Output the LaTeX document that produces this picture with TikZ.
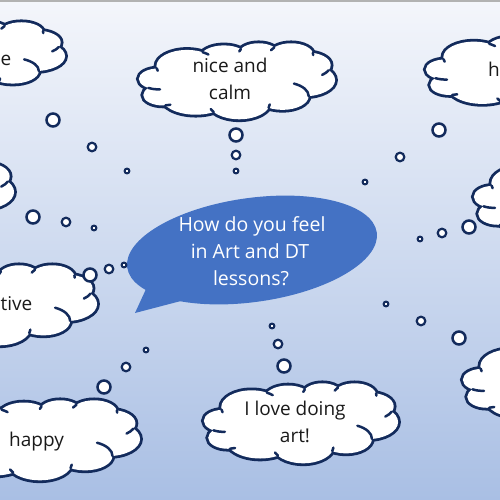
\documentclass[tikz,border=0pt]{standalone}
\usepackage{fontspec}
\setmainfont{Open Sans}
\definecolor{navy}{HTML}{132B5C}
\definecolor{bubble}{HTML}{4472C4}
\definecolor{bgtop}{HTML}{F4F6FB}
\definecolor{bgmid}{HTML}{CAD7EE}
\definecolor{bgbot}{HTML}{A9BFE4}
\definecolor{txt}{HTML}{1A1A1A}
\newcommand{\cloudbumps}{0.2452/0.3040/0.1563/0.2127, 0.4332/0.1994/0.1234/0.1682, 0.6102/0.1409/0.1010/0.1376, 0.7763/0.1562/0.1124/0.1527, 0.8545/0.2916/0.1234/0.1684, 0.8436/0.4879/0.1568/0.2134, 0.7319/0.6978/0.1339/0.1821, 0.5114/0.7904/0.1563/0.2133, 0.2894/0.6998/0.1787/0.2440, 0.1226/0.6851/0.1009/0.1370, 0.0997/0.4728/0.1006/0.1376}
\newcommand{\cloudcreases}{0.0997/0.4728/0.1006/0.1376/85.5/120.4, 0.1226/0.6851/0.1009/0.1370/68.2/83.3, 0.5114/0.7904/0.1563/0.2133/146.2/158.5, 0.5114/0.7904/0.1563/0.2133/4.7/16.8, 0.7319/0.6978/0.1339/0.1821/-64.0/0.5, 0.8545/0.2916/0.1234/0.1684/23.2/49.6, 0.7763/0.1562/0.1124/0.1527/-10.2/0.8, 0.7763/0.1562/0.1124/0.1527/-156.3/-139.7, 0.6102/0.1409/0.1010/0.1376/-167.7/-153.5, 0.2452/0.3040/0.1563/0.2127/-59.6/-45.8, 0.2452/0.3040/0.1563/0.2127/163.2/172.3}
\newcommand{\drawcloud}[4]{%
  \begin{scope}[shift={(#1,#2)}, xscale=#3, yscale=#4]
    \foreach \cx/\cy/\rx/\ry in \cloudbumps {\path[cloudstroke] (\cx,\cy) ellipse [x radius=\rx, y radius=\ry];}
    \foreach \cx/\cy/\rx/\ry in \cloudbumps {\fill[white] (\cx,\cy) ellipse [x radius=\rx, y radius=\ry];}
    \fill[white] (0.2452,0.3040) -- (0.4332,0.1994) -- (0.6102,0.1409) -- (0.7763,0.1562) -- (0.8545,0.2916) -- (0.8436,0.4879) -- (0.7319,0.6978) -- (0.5114,0.7904) -- (0.2894,0.6998) -- (0.1226,0.6851) -- (0.0997,0.4728) -- cycle;
    \foreach \cx/\cy/\rx/\ry/\ta/\tb in \cloudcreases {\draw[crease] ({\cx+\rx*cos(\ta)},{\cy+\ry*sin(\ta)}) arc[start angle=\ta, end angle=\tb, x radius=\rx, y radius=\ry];}
  \end{scope}}
\begin{document}
\begin{tikzpicture}[x=1pt,y=-1pt,
  cloudstroke/.style={draw=navy, line width=5.6pt},
  crease/.style={draw=navy, line width=2.5pt, line cap=round},
  lbub/.style={draw=navy, fill=white, line width=2.5pt},
  mbub/.style={draw=navy, fill=white, line width=2.2pt},
  sbub/.style={draw=navy, fill=white, line width=2pt},
  ctext/.style={font=\fontsize{19}{26}\selectfont, text=txt, inner sep=0pt},
  btext/.style={font=\fontsize{19.5}{26}\selectfont, text=white, inner sep=0pt}]
\useasboundingbox (0,0) rectangle (500,500);
\clip (0,0) rectangle (500,500);
\shade[top color=bgtop, middle color=bgmid, bottom color=bgbot] (0,0) rectangle (500,500);
\fill[black!30] (0,0) rectangle (500,1.6);
% clouds
\drawcloud{-130}{22}{195}{70}
\drawcloud{139}{43}{196}{76}
\drawcloud{426}{35}{195}{73}
\drawcloud{-181}{153}{195}{80}
\drawcloud{474}{159}{195}{80}
\drawcloud{-103}{265}{200}{80}
\drawcloud{-65}{400}{205}{80}
\drawcloud{204}{383}{194}{80}
\drawcloud{463}{342}{195}{80}
% speech bubble
\fill[bubble] (152,276) -- (135,313) -- (200,296) -- cycle;
\fill[bubble, rotate around={8:(252,250)}] (252,250) ellipse [x radius=126, y radius=52];
% thought bubbles
\foreach \lx/\ly/\mx/\my/\sx/\sy in {53/120/92/147/127/171, 33/217/66/222/94/228, 236/135/236/155/236/171, 439/130/400/157/365/182, 469/227/442/233/420/239, 90/275/109/269/124/265, 104/387/126/367/146/350, 284/366/278/344/272/326, 459/338/421/321/386/304}{
  \draw[lbub] (\lx,\ly) circle [radius=6.5];
  \draw[mbub] (\mx,\my) circle [radius=4.3];
  \draw[sbub] (\sx,\sy) circle [radius=2.4];
}
% texts
\node[ctext, anchor=base] (t1a) at (230,73) {nice and};
\node[ctext, anchor=base] (t1b) at (230,100) {calm};
\node[ctext, anchor=base] (t2a) at (295,415.5) {I love doing};
\node[ctext, anchor=base] (t2b) at (295,442) {art!};
\node[ctext, anchor=base] (t3) at (36.5,446) {happy};
\node[ctext, anchor=base west] (t4) at (0.5,310) {tive};
\node[ctext, anchor=base west] (t5) at (488,77) {h};
\node[ctext, anchor=base west] (t6) at (0.5,66) {e};
\node[btext, anchor=base] (q1) at (252,231.5) {How do you feel};
\node[btext, anchor=base] (q2) at (250,258) {in Art and DT};
\node[btext, anchor=base] (q3) at (251,285) {lessons?};
\end{tikzpicture}
\end{document}
